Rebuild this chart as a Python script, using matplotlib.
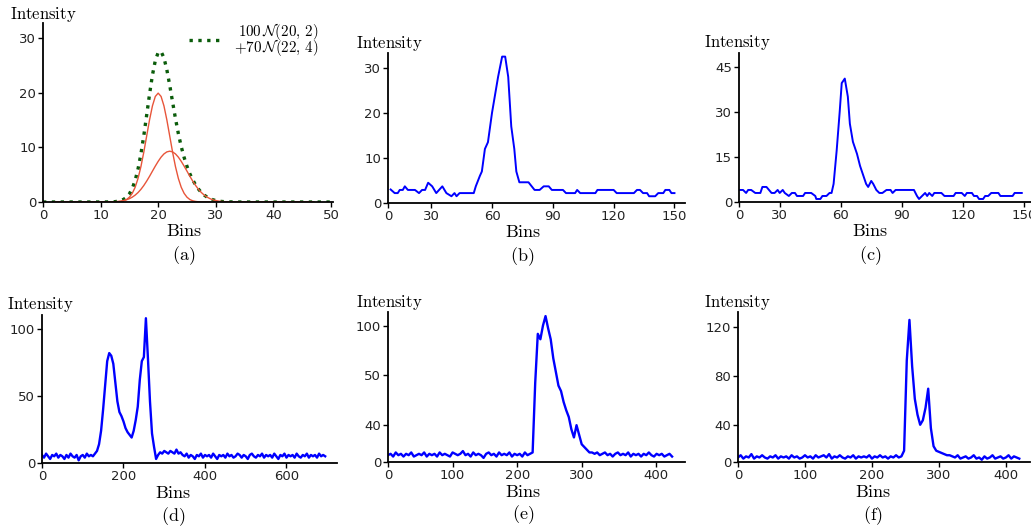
import numpy as np
import matplotlib
matplotlib.use('Agg')
import matplotlib.pyplot as plt

plt.rcParams['mathtext.fontset'] = 'cm'
plt.rcParams['font.family'] = ['DejaVu Sans']

# ---------------- data ----------------
# (a) two gaussians and their sum
a_x = np.concatenate([np.arange(0, 12), np.arange(12, 34.5, 0.5), np.arange(35, 51)])
a_narrow = [0] * 12 + [0.0, 0.0, 0.04, 0.10, 0.22, 0.45, 0.88, 1.59, 2.70, 4.32, 6.48, 9.13, 12.10, 15.06,
                       17.61, 19.34, 19.95, 19.34, 17.61, 15.06, 12.10, 9.13, 6.48, 4.32, 2.70, 1.59, 0.88,
                       0.45, 0.22, 0.10, 0.04] + [0.0] * 14 + [0] * 16
a_broad = [0] * 11 + [0.01] + [0.04, 0.06, 0.10, 0.17, 0.27, 0.41, 0.61, 0.89, 1.26, 1.73, 2.32, 3.02, 3.83,
                               4.71, 5.65, 6.58, 7.45, 8.22, 8.81, 9.18, 9.31, 9.18, 8.81, 8.22, 7.45, 6.58,
                               5.65, 4.71, 3.83, 3.02, 2.32, 1.73, 1.26, 0.89, 0.61, 0.41, 0.27, 0.17, 0.10,
                               0.06, 0.04, 0.02, 0.01, 0.01, 0.0] + [0] * 16
a_sum = [0] * 11 + [0.01] + [0.04, 0.06, 0.14, 0.27, 0.49, 0.86, 1.49, 2.48, 3.96, 6.05, 8.80, 12.15, 15.93,
                             19.77, 23.26, 25.92, 27.40, 27.56, 26.42, 24.24, 21.41, 18.31, 15.29, 12.54,
                             10.15, 8.17, 6.53, 5.16, 4.05, 3.12, 2.36, 1.73, 1.26, 0.89, 0.61, 0.41, 0.27,
                             0.17, 0.10, 0.06, 0.04, 0.02, 0.01, 0.01, 0.0] + [0] * 16

# (b)
b_x = [10, 12, 13.5, 14.5, 16, 17, 18.5, 22, 24, 25.5, 27, 28.5, 30.5, 32.5, 35.5, 37.5, 40, 41.5, 42.5, 44,
       51, 52, 54, 55, 56.5, 58, 60, 61.5, 63, 65, 66.5, 68, 69.5, 71, 72, 73.5, 78, 81, 83.5, 85.5, 88,
       89.5, 95, 96.5, 101, 102, 103.5, 111, 112, 120, 121.5, 130, 131.5, 133, 134.5, 136.5, 137.5, 140.5,
       142, 144.5, 145.5, 147.5, 148.5, 150]
b_y = [3, 2.2, 2.2, 2.9, 2.9, 3.7, 2.9, 2.9, 2.2, 2.9, 2.9, 4.5, 3.7, 2.2, 3.7, 2.2, 1.5, 2.2, 1.5, 2.2,
       2.2, 3.7, 6, 7, 12, 13.5, 20, 24, 28, 32.5, 32.5, 28, 17, 12, 7, 4.6, 4.6, 2.9, 2.9, 3.7, 3.7,
       2.9, 2.9, 2.2, 2.2, 2.9, 2.2, 2.2, 2.9, 2.9, 2.2, 2.2, 2.9, 2.9, 2.2, 2.2, 1.5, 1.5,
       2.2, 2.2, 2.9, 2.9, 2.2, 2.2]

# (c)
c_x = [10.5, 12, 13.5, 14.5, 16, 18, 20.5, 21.5, 23.5, 26, 27.5, 29, 30, 31.5, 32.5, 34.5, 36, 37.5, 38.5,
       41.5, 42.5, 45.5, 47.5, 48, 50, 51, 53, 54.5, 55.5, 56.5, 58, 59.5, 60.5, 62, 63.5, 64.5, 66, 68,
       69.5, 71, 72.5, 73.5, 75, 76, 77.5, 79, 80.5, 82.5, 84.5, 85.5, 87, 95, 96, 97.5, 98.5, 100, 101.5,
       102.5, 103.5, 105, 106, 109.5, 111, 115.5, 116.5, 119.5, 121, 122, 124.5, 125.5, 127, 128, 130,
       131, 132.5, 134, 137.5, 138.5, 144.5, 145.5, 149]
c_y = [4, 4, 3, 4, 4, 3, 3, 5, 5, 3, 3, 4, 3, 4, 3, 2, 3, 3, 2,
       2, 3, 3, 2, 1, 1, 2, 2, 3, 3, 6, 17, 30, 39.5, 41, 35, 26, 20, 16,
       12, 9, 6, 5, 7, 6, 4, 3, 3, 4, 4, 3, 4, 4, 4, 2, 1, 2, 3,
       2, 3, 2, 3, 3, 2, 2, 3, 3, 2, 3, 3, 2, 2, 1, 1,
       2, 2, 3, 3, 2, 2, 3, 3]

# (d) every 5 bins
d_y = ([6, 4, 7, 5, 3, 6, 5, 7, 4, 6, 5, 3, 6, 4, 7, 5, 4, 6, 2, 5, 6, 4, 7, 5, 6, 5]
       + [7, 9, 14, 24, 40, 58, 76, 82, 80, 74, 60, 46, 38, 35, 31, 26, 23, 21, 19, 24,
          32, 42, 62, 76, 79, 108, 78, 46, 22, 12, 3, 6, 8, 7, 9, 8, 7, 9, 8, 7, 10, 7, 8]
       + [6, 5, 7, 4, 6, 5, 3, 6, 5, 7, 4, 6, 5, 6, 4, 7, 5, 3, 6, 5, 6, 4, 7, 5, 6, 4, 5, 7, 6, 4,
          6, 5, 3, 6, 7, 5, 4, 6, 5, 7, 4, 6, 5, 6, 4, 7, 5, 3, 6, 5, 7, 4, 6, 5, 6, 4, 7, 5, 4, 6,
          5, 7, 4, 6, 5, 6, 4, 7, 5, 6, 5])
d_x = np.arange(len(d_y)) * 5

# (e) every 4 bins
e_y = ([5, 6, 4, 7, 5, 6, 4, 6, 5, 7, 4, 5, 6, 5, 7, 4, 6, 5, 6, 4, 7, 5, 6, 5, 4, 7, 6, 5, 6, 8,
        5, 6, 4, 7, 5, 6, 5, 3, 6, 7, 5, 6, 4, 7, 5, 6, 5, 7, 4, 6, 5, 6, 4, 7, 5]
       + [6, 7, 58, 94, 90, 100, 107, 98, 90, 76, 66, 56, 52, 44, 38, 33, 24, 18, 27, 20, 13, 11, 9, 7, 7]
       + [6, 7, 5, 6, 7, 5, 6, 4, 6, 7, 5, 6, 5, 7, 4, 6, 5, 6, 4, 6, 5, 7, 5, 4, 6, 5, 6, 4, 5, 6, 4])
e_x = np.arange(len(e_y)) * 4

# (f) every 4 bins
f_y = ([4, 6, 3, 5, 4, 7, 3, 5, 4, 6, 4, 3, 5, 4, 6, 3, 5, 4, 5, 3, 6, 4, 5, 3, 4, 6, 4, 5, 3, 6,
        4, 5, 6, 4, 7, 3, 5, 4, 6, 4, 3, 5, 4, 6, 3, 5, 4, 5, 4, 6, 3, 5, 4, 6, 4, 5, 3, 5, 4, 6, 4, 5]
       + [10, 90, 126, 85, 56, 42, 33, 37, 48, 65, 30, 14, 10, 9, 8, 7, 6, 6]
       + [5, 4, 6, 3, 4, 5, 3, 4, 6, 3, 4, 2, 5, 3, 4, 6, 3, 4, 5, 3, 4, 6, 3, 5, 4, 3])
f_x = np.arange(len(f_y)) * 4

# tick positions / labels as printed on each panel
a_xticks, a_xlabels = [0, 10, 20, 30, 40, 50], ['0', '10', '20', '30', '40', '50']
a_yticks, a_ylabels = [0, 10, 20, 30], ['0', '10', '20', '30']
b_xticks, b_xlabels = [8.7, 30, 60, 90, 120, 150], ['0', '30', '60', '90', '120', '150']
b_yticks, b_ylabels = [0, 10, 20, 30], ['0', '10', '20', '30']
c_xticks, c_xlabels = [10, 30, 60, 90, 120, 150], ['0', '30', '60', '90', '120', '150']
c_yticks, c_ylabels = [0, 15, 30, 45], ['0', '15', '30', '45']
d_xticks, d_xlabels = [0, 200, 400, 600], ['0', '200', '400', '600']
d_yticks, d_ylabels = [0, 50, 100], ['0', '50', '100']
e_xticks, e_xlabels = [0, 100, 200, 300, 415], ['0', '100', '200', '300', '400']
e_yticks, e_ylabels = [0, 27, 64, 100], ['0', '40', '50', '100']
f_xticks, f_xlabels = [0, 100, 200, 300, 400], ['0', '100', '200', '300', '400']
f_yticks, f_ylabels = [0, 33, 76, 120], ['0', '40', '80', '120']

# ---------------- figure ----------------
W, H = 1031, 532
fig = plt.figure(figsize=(W / 100, H / 100), dpi=100)


def px_axes(left, right, top, bottom):
    return fig.add_axes([left / W, 1 - bottom / H, (right - left) / W, (bottom - top) / H])


def style(ax, xt, xl, yt, yl, xlim, ylim):
    ax.spines['top'].set_visible(False)
    ax.spines['right'].set_visible(False)
    for s in ['left', 'bottom']:
        ax.spines[s].set_linewidth(1.3)
    ax.set_xticks(xt)
    ax.set_xticklabels(xl)
    ax.set_yticks(yt)
    ax.set_yticklabels(yl)
    ax.set_xlim(*xlim)
    ax.set_ylim(*ylim)
    ax.tick_params(direction='out', length=3.5, width=1, labelsize=9.5, pad=1.5, colors='black',
                   labelcolor='#222222')


def ftext(x, y, s, size=12.5):
    fig.text(x / W, 1 - y / H, s, ha='center', va='center', fontsize=size)


blue = '#0000ff'

# (a)
ax = px_axes(43, 333, 23, 202)
ax.plot(a_x, a_sum, ls=':', color='#0a5c0a', lw=2.4,
        label='$100\\,\\mathcal{N}(20,\\,2)$\n$+70\\,\\mathcal{N}(22,\\,4)$')
keep = (a_x >= 1.7) & (a_x <= 47)
ax.plot(a_x[keep], np.array(a_narrow)[keep], color='#e8553a', lw=1.0)
ax.plot(a_x[keep], np.array(a_broad)[keep], color='#e8553a', lw=1.0)
style(ax, a_xticks, a_xlabels, a_yticks, a_ylabels, (0, 50.35), (0, 32.8))
leg = ax.legend(loc='upper right', bbox_to_anchor=(0.97, 1.045), frameon=False, fontsize=10.8,
                handlelength=1.95, handletextpad=1.0, borderaxespad=0)
for t in leg.get_texts():
    t.set_multialignment('right')
    t.set_linespacing(0.7)

# (b)
ax = px_axes(388, 685, 53, 203)
ax.plot(b_x, b_y, color=blue, lw=1.4)
style(ax, b_xticks, b_xlabels, b_yticks, b_ylabels, (8.7, 155.2), (0, 33.3))

# (c)
ax = px_axes(739, 1036, 53, 202)
ax.plot(c_x, c_y, color=blue, lw=1.4)
style(ax, c_xticks, c_xlabels, c_yticks, c_ylabels, (10, 156), (0, 49.5))

# (d)
ax = px_axes(42, 337, 315, 463)
ax.plot(d_x, d_y, color=blue, lw=1.7)
style(ax, d_xticks, d_xlabels, d_yticks, d_ylabels, (0, 724), (0, 110.4))

# (e)
ax = px_axes(388, 685, 312, 462)
ax.plot(e_x, e_y, color=blue, lw=1.7)
style(ax, e_xticks, e_xlabels, e_yticks, e_ylabels, (0, 460), (0, 110))

# (f)
ax = px_axes(738, 1030, 312, 462)
ax.plot(f_x, f_y, color=blue, lw=1.7)
style(ax, f_xticks, f_xlabels, f_yticks, f_ylabels, (0, 436), (0, 133))

# axis titles and panel letters
for (x, y) in [(43, 15), (389, 44), (737, 43), (40, 305), (389, 303), (737, 302)]:
    ftext(x, y, '$\\mathrm{Intensity}$', 12)
for (x, y) in [(184, 231), (523, 232), (870, 231), (173, 493), (523, 492), (873, 492)]:
    ftext(x, y, '$\\mathrm{Bins}$', 13)
for (x, y), s in zip([(184, 256), (522, 257), (870, 256), (173, 517), (523, 515), (873, 516)], 'abcdef'):
    ftext(x, y, '$(\\mathrm{%s})$' % s, 13)

fig.savefig('out.png', dpi=100)
